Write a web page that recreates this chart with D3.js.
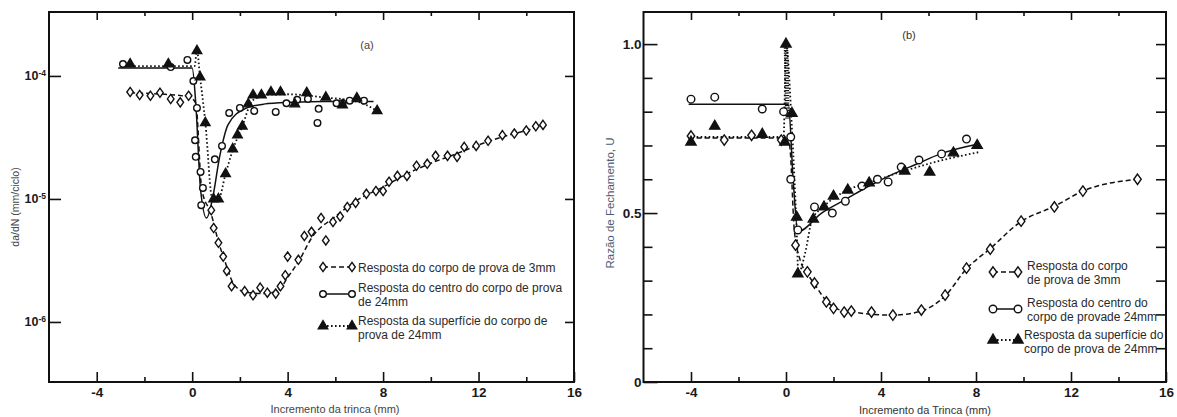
<!DOCTYPE html>
<html>
<head>
<meta charset="utf-8">
<script src="https://cdn.jsdelivr.net/npm/d3@7"></script>
<style>
  body { margin: 0; background: #fff; }
  text { font-family: "Liberation Sans", Arial, sans-serif; }
</style>
</head>
<body>
<div id="chart"></div>
<script>
// ---------- painel (a): da/dN ----------
var a3mmX = [-2.6,-2.2,-1.75,-1.35,-0.9,-0.5,-0.15,0.8,0.9,1.1,1.3,1.45,1.65,2.2,2.55,2.85,3.15,3.5,3.7,3.9,4.0,4.45,4.7,5.0,5.4,5.6,5.9,6.2,6.5,6.85,7.3,7.7,8.0,8.25,8.6,9.0,9.4,9.85,10.2,10.7,11.1,11.4,11.9,12.4,13.0,13.5,14.0,14.4,14.7];
var a3mmY = [7.4e-5,7.0e-5,6.9e-5,7.3e-5,6.5e-5,6.1e-5,6.9e-5,8.1e-6,5.8e-6,4.4e-6,3.4e-6,2.6e-6,1.95e-6,1.78e-6,1.65e-6,1.9e-6,1.73e-6,1.7e-6,1.95e-6,2.4e-6,3.4e-6,3.2e-6,5.0e-6,5.4e-6,7.0e-6,4.6e-6,6.5e-6,7.2e-6,8.6e-6,9.3e-6,1.1e-5,1.16e-5,1.16e-5,1.38e-5,1.54e-5,1.54e-5,1.86e-5,1.93e-5,2.24e-5,2.24e-5,2.2e-5,2.65e-5,2.7e-5,2.97e-5,3.3e-5,3.4e-5,3.6e-5,3.9e-5,4.0e-5];

var aCentroX = [-2.9,-0.9,-0.2,0.05,0.2,0.12,0.15,0.35,0.45,0.38,0.95,1.25,1.55,2.0,2.6,3.5,3.95,4.4,4.85,5.3,5.25,6.05,6.3,6.6,7.2];
var aCentroY = [1.25e-4,1.18e-4,1.35e-4,9.1e-5,5.5e-5,3.0e-5,2.2e-5,1.66e-5,1.23e-5,8.9e-6,2.1e-5,2.7e-5,5.0e-5,5.5e-5,5.2e-5,5.1e-5,6.0e-5,6.4e-5,6.5e-5,5.4e-5,4.15e-5,6.0e-5,6.0e-5,6.3e-5,6.3e-5];

var aSupX = [-2.6,-1.0,0.2,0.33,0.55,0.9,1.1,1.4,1.7,1.9,2.1,2.35,2.55,2.9,3.3,3.7,4.3,4.8,5.6,6.3,6.9,7.75];
var aSupY = [1.25e-4,1.25e-4,1.6e-4,9.8e-5,4.15e-5,1.0e-5,1.0e-5,1.6e-5,2.55e-5,3.3e-5,3.9e-5,5.9e-5,7.0e-5,7.0e-5,7.4e-5,7.4e-5,5.9e-5,7.3e-5,6.7e-5,5.8e-5,6.6e-5,5.2e-5];

// curvas ajustadas
var aFit3mmX = [-2.6,-0.15,0.15,0.4,0.8,1.1,1.4,1.7,2.2,3.0,3.6,4.0,4.5,5.0,6.0,7.0,8.0,9.0,10.0,11.0,12.0,13.0,14.0,14.7];
var aFit3mmY = [7.3e-5,6.8e-5,6.0e-5,1.2e-5,7.5e-6,4.5e-6,3.0e-6,2.1e-6,1.75e-6,1.7e-6,1.8e-6,2.3e-6,3.2e-6,4.8e-6,7.2e-6,1.0e-5,1.25e-5,1.6e-5,1.95e-5,2.3e-5,2.75e-5,3.2e-5,3.6e-5,4.0e-5];
var aFitCentroX = [-3.1,0.0,0.15,0.35,0.6,0.85,1.15,1.5,2.2,3.0,4.2,5.5,7.6];
var aFitCentroY = [1.16e-4,1.16e-4,6.0e-5,1.2e-5,7.0e-6,1.0e-5,2.2e-5,4.0e-5,5.4e-5,5.9e-5,6.1e-5,6.2e-5,6.2e-5];
var aFitSupX = [-2.6,0.1,0.2,0.33,0.55,0.85,1.1,1.4,1.7,2.1,2.5,3.0,4.0,5.5,6.9,7.75];
var aFitSupY = [1.2e-4,1.2e-4,1.6e-4,9.8e-5,4.2e-5,1.0e-5,1.0e-5,1.6e-5,2.5e-5,3.9e-5,6.2e-5,7.0e-5,7.1e-5,6.7e-5,6.2e-5,5.2e-5];

// ---------- painel (b): U ----------
var b3mmX = [-4.0,-2.6,-1.45,-0.2,0.4,0.9,1.2,1.7,2.0,2.45,2.75,3.6,4.5,5.7,6.7,7.6,8.6,9.9,11.3,12.5,14.8];
var b3mmY = [0.728,0.716,0.73,0.716,0.405,0.326,0.293,0.237,0.218,0.207,0.21,0.207,0.198,0.213,0.257,0.337,0.393,0.476,0.518,0.565,0.60];
var bCentroX = [-4.0,-3.0,-1.0,-0.1,0.2,0.2,0.5,1.2,1.95,2.5,3.2,3.85,4.3,4.85,5.6,6.55,7.6];
var bCentroY = [0.837,0.843,0.808,0.80,0.725,0.60,0.45,0.518,0.50,0.535,0.58,0.60,0.592,0.636,0.657,0.675,0.719];
var bSupX = [-4.0,-3.0,-1.0,-0.05,0.0,0.25,0.45,0.5,1.15,1.6,2.0,2.6,3.5,5.0,6.05,7.05,8.05];
var bSupY = [0.71,0.757,0.733,0.71,1.0,0.795,0.488,0.32,0.482,0.518,0.55,0.568,0.589,0.624,0.621,0.678,0.70];
// coluna densa de pontos logo apos x = 0
var bColunaX = [0.0, 0.06];
var bColunaY = [0.99, 0.78];

var bFit3mmX = [-4.1,-0.1,0.15,0.35,0.6,0.9,1.2,1.7,2.2,3.0,4.5,5.7,6.7,7.6,8.6,9.9,11.3,12.5,14.8];
var bFit3mmY = [0.722,0.722,0.70,0.45,0.36,0.32,0.29,0.24,0.215,0.205,0.198,0.21,0.255,0.335,0.395,0.475,0.52,0.565,0.60];
var bFitCentroX = [-4.1,0.1,0.3,0.5,1.5,2.5,3.5,4.5,5.5,6.5,8.15];
var bFitCentroY = [0.822,0.822,0.60,0.445,0.50,0.54,0.58,0.615,0.645,0.675,0.705];
var bFitSupX = [-4.1,-0.1,0.0,0.25,0.45,0.52,0.8,1.1,1.6,2.5,3.5,5.0,6.5,8.1];
var bFitSupY = [0.725,0.725,1.0,0.75,0.45,0.32,0.38,0.48,0.52,0.565,0.59,0.625,0.655,0.68];

// ticks
var xTicks = [-4, 0, 4, 8, 12, 16];
var xMinor = [-2, 2, 6, 10, 14];
var aYTicks = [1e-4, 1e-5, 1e-6];
var bYTicks = [0, 0.5, 1.0];
var bYMinor = [0.1, 0.2, 0.3, 0.4, 0.6, 0.7, 0.8, 0.9];

// legendas
var aLegend = [["Resposta do corpo de prova de 3mm"], ["Resposta do centro do corpo de prova", "de 24mm"], ["Resposta da superfície do corpo de", "prova de 24mm"]];
var bLegend = [["Resposta do corpo", "de prova de 3mm"], ["Resposta do centro do", "corpo de provade 24mm"], ["Resposta da superfície do", "corpo de prova de 24mm"]];

var ink = "#111";
var kinds = ["dia", "circ", "tri"];
var dashes = ["5,3", null, "1.6,2.4"];

var svg = d3
  .select("#chart")
  .append("svg")
  .attr("width", 1177)
  .attr("height", 417)
  .style("background", "#fff");

function markerPath(kind, s) {
  if (kind == "dia") {
    var w = s * 0.72;
    return "M0," + -s + "L" + w + ",0L0," + s + "L" + -w + ",0Z";
  }
  if (kind == "circ") return d3.symbol(d3.symbolCircle, Math.PI * s * s)();
  return d3.symbol(d3.symbolTriangle, s * s * 2.2)();
}

function drawCurve(g, x, y, xs, ys, dash) {
  var pts = xs.map(function(d, i) { return [d, ys[i]]; });
  var line = d3.line()
    .x(function(d) { return x(d[0]); })
    .y(function(d) { return y(d[1]); })
    .curve(d3.curveMonotoneX);
  return g.append("path")
    .datum(pts)
    .attr("d", line)
    .attr("fill", "none")
    .attr("stroke", ink)
    .attr("stroke-width", dash == dashes[2] ? 1.8 : 1.5)
    .attr("stroke-dasharray", dash);
}

function drawMarkers(g, x, y, xs, ys, kind, s) {
  g.selectAll(null)
    .data(xs.map(function(d, i) { return [d, ys[i]]; }))
    .enter()
    .append("path")
    .attr("transform", function(d) { return "translate(" + x(d[0]) + "," + y(d[1]) + ")"; })
    .attr("d", markerPath(kind, s))
    .attr("fill", kind == "tri" ? ink : "#fff")
    .attr("stroke", ink)
    .attr("stroke-width", 1.4);
}

function styleAxis(sel, size) {
  sel.select(".domain").remove();
  sel.selectAll(".tick line").attr("stroke", ink).attr("stroke-width", 1.6);
  sel.attr("font-family", "Liberation Sans, Arial, sans-serif")
    .attr("font-size", size)
    .attr("font-weight", "bold")
    .selectAll("text").attr("fill", "#1a1a1a");
}

function frame(x, y) {
  var xr = x.range(), yr = y.range();
  var f = svg.append("g");
  // ticks x
  f.append("g").attr("transform", "translate(0," + yr[0] + ")")
    .call(d3.axisBottom(x).tickValues(xTicks).tickSize(-10).tickPadding(5).tickFormat(function(d) { return String(d); }))
    .call(styleAxis, 13.5);
  f.append("g").attr("transform", "translate(0," + yr[0] + ")")
    .call(d3.axisBottom(x).tickValues(xMinor).tickSize(-5).tickFormat(""))
    .call(styleAxis, 13);
  f.append("g").attr("transform", "translate(0," + yr[1] + ")")
    .call(d3.axisTop(x).tickValues(xTicks.slice(0, 5)).tickSize(-8).tickFormat(""))
    .call(styleAxis, 13);
  f.append("g").attr("transform", "translate(0," + yr[1] + ")")
    .call(d3.axisTop(x).tickValues(xMinor).tickSize(-4).tickFormat(""))
    .call(styleAxis, 13);
  f.append("rect")
    .attr("x", xr[0]).attr("y", yr[1])
    .attr("width", xr[1] - xr[0]).attr("height", yr[0] - yr[1])
    .attr("fill", "none").attr("stroke", ink).attr("stroke-width", 2);
  return f;
}

function legend(rows, x0, x1, tx, rowY, lineY, size, s) {
  var lg = svg.append("g");
  rows.forEach(function(lines, i) {
    drawCurve(lg, function(d) { return d; }, function(d) { return d; }, [x0, x1], [rowY[i], rowY[i]], dashes[i]);
    drawMarkers(lg, function(d) { return d; }, function(d) { return d; }, [x0, x1], [rowY[i], rowY[i]], kinds[i], s[i]);
    lines.forEach(function(t, j) {
      lg.append("text")
        .attr("x", tx[i]).attr("y", lineY[i][j])
        .attr("font-size", size).attr("fill", "#2a2a2a")
        .text(t);
    });
  });
}

// ================= painel (a) =================
var xa = d3.scaleLinear().domain([-6, 16]).range([49, 574]);
var ya = d3.scaleLog().domain([3.25e-7, 3.31e-4]).range([382, 12]);

var fa = frame(xa, ya);
fa.append("g").attr("transform", "translate(" + xa.range()[0] + ",0)")
  .call(d3.axisLeft(ya).tickValues(aYTicks).tickSize(-12).tickPadding(3))
  .call(styleAxis, 12.5)
  .selectAll(".tick text")
  .each(function(d) {
    var t = d3.select(this).text("10");
    t.append("tspan").attr("dy", "-0.5em").attr("font-size", 8.5).text(Math.round(Math.log10(d)));
  });
fa.append("g").attr("transform", "translate(" + xa.range()[1] + ",0)")
  .call(d3.axisRight(ya).tickValues(aYTicks).tickSize(-9).tickFormat(""))
  .call(styleAxis, 12);

var ga = svg.append("g");
drawCurve(ga, xa, ya, aFit3mmX, aFit3mmY, dashes[0]);
drawCurve(ga, xa, ya, aFitCentroX, aFitCentroY, dashes[1]);
drawCurve(ga, xa, ya, aFitSupX, aFitSupY, dashes[2]);
drawMarkers(ga, xa, ya, a3mmX, a3mmY, "dia", 4.6);
drawMarkers(ga, xa, ya, aCentroX, aCentroY, "circ", 3.3);
drawMarkers(ga, xa, ya, aSupX, aSupY, "tri", 4.2);

svg.append("text").attr("x", 367).attr("y", 49).attr("text-anchor", "middle")
  .attr("font-size", 11).attr("fill", "#444").text("(a)");
svg.append("text").attr("x", 335).attr("y", 413).attr("text-anchor", "middle")
  .attr("font-size", 11).attr("fill", "#444").text("Incremento da trinca (mm)");
svg.append("text").attr("transform", "translate(19,207) rotate(-90)").attr("text-anchor", "middle")
  .attr("font-size", 10.5).attr("fill", "#444").text("da/dN (mm/ciclo)");

legend(aLegend, 323, 352, [358, 358, 358], [267, 294, 326],
  [[272], [292, 306], [325, 339]], 12, [4.6, 3.3, 4.2]);

// ================= painel (b) =================
var xb = d3.scaleLinear().domain([-6, 16]).range([643.5, 1166]);
var yb = d3.scaleLinear().domain([0, 1.095]).range([382, 12]);

var fb = frame(xb, yb);
fb.append("g").attr("transform", "translate(" + xb.range()[0] + ",0)")
  .call(d3.axisLeft(yb).tickValues(bYTicks).tickSize(-14).tickPadding(2).tickFormat(function(d) { return d == 0 ? "0" : d3.format(".1f")(d); }))
  .call(styleAxis, 13.5);
fb.append("g").attr("transform", "translate(" + xb.range()[0] + ",0)")
  .call(d3.axisLeft(yb).tickValues(bYMinor).tickSize(-9).tickFormat(""))
  .call(styleAxis, 13);
fb.append("g").attr("transform", "translate(" + xb.range()[1] + ",0)")
  .call(d3.axisRight(yb).tickValues(bYMinor.concat([0.5, 1.0])).tickSize(-10).tickFormat(""))
  .call(styleAxis, 13);

var gb = svg.append("g");
drawCurve(gb, xb, yb, bFit3mmX, bFit3mmY, dashes[0]);
drawCurve(gb, xb, yb, bFitCentroX, bFitCentroY, dashes[1]);
drawCurve(gb, xb, yb, bFitSupX, bFitSupY, dashes[2]);
// coluna hachurada
drawCurve(gb, xb, yb, bColunaX, bColunaY, "1.2,1.3").attr("stroke-width", 4.5);
drawMarkers(gb, xb, yb, b3mmX, b3mmY, "dia", 5.2);
drawMarkers(gb, xb, yb, bCentroX, bCentroY, "circ", 3.8);
drawMarkers(gb, xb, yb, bSupX, bSupY, "tri", 4.5);

svg.append("text").attr("x", 909).attr("y", 39).attr("text-anchor", "middle")
  .attr("font-size", 11).attr("fill", "#333").text("(b)");
svg.append("text").attr("x", 925).attr("y", 414).attr("text-anchor", "middle")
  .attr("font-size", 11).attr("fill", "#333").text("Incremento da Trinca (mm)");
svg.append("text").attr("transform", "translate(614,203) rotate(-90)").attr("text-anchor", "middle")
  .attr("font-size", 11.5).attr("fill", "#4d5b75").text("Razão de Fechamento, U");

legend(bLegend, 993, 1018, [1027, 1027, 1024], [272, 309, 340],
  [[270, 284], [307, 321], [339, 353]], 12, [5.2, 3.8, 4.5]);
</script>
</body>
</html>
